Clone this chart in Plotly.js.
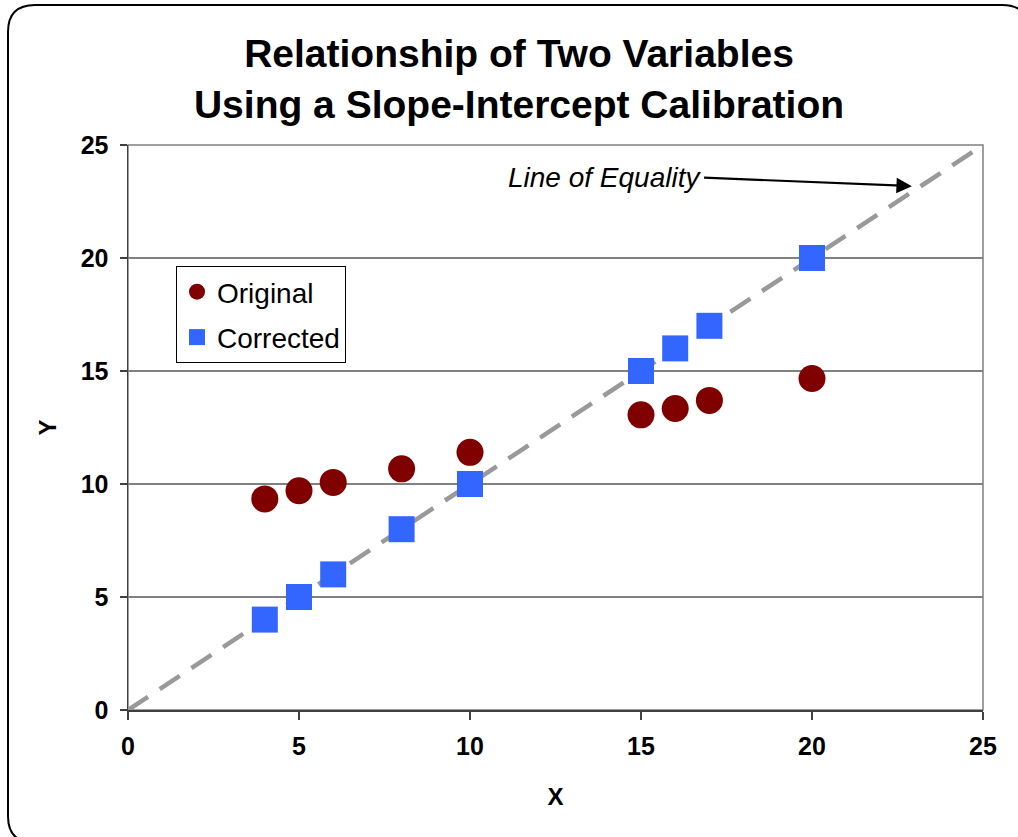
<!DOCTYPE html>
<html>
<head>
<meta charset="utf-8">
<script src="https://cdn.plot.ly/plotly-3.0.1.min.js"></script>
<style>
html,body{margin:0;padding:0;background:#fff;}
#chart{width:1018px;height:837px;}
</style>
</head>
<body>
<div id="chart"></div>
<script>
// ---- data ----
const xValues = [4, 5, 6, 8, 10, 15, 16, 17, 20];
const originalY = [9.34, 9.70, 10.07, 10.67, 11.40, 13.06, 13.34, 13.70, 14.67];
const correctedY = [4, 5, 6, 8, 10, 15, 16, 17, 20];
const equalityX = [0, 25];
const equalityY = [0, 25];
const seriesNames = ["Original", "Corrected"];
const titleLines = ["Relationship of Two Variables", "Using a Slope-Intercept Calibration"];
const equalityLabel = "Line of Equality";
const arrowTip = [22.92, 23.18];
const arrowTail = [16.8, 23.56];

// ---- layout helpers ----
const W = 1018, H = 837;
const M = {l: 128, r: 35, t: 145, b: 127};
const PW = W - M.l - M.r, PH = H - M.t - M.b;
function px(x){ return (x - M.l) / PW; }
function py(y){ return (H - M.b - y) / PH; }
function frameShape(x0, y0, x1, y1, r){
  const p = [
    `M${px(x0+r)},${py(y0)}`,
    `L${px(x1-r)},${py(y0)}`,
    `Q${px(x1)},${py(y0)} ${px(x1)},${py(y0+r)}`,
    `L${px(x1)},${py(y1-r)}`,
    `Q${px(x1)},${py(y1)} ${px(x1-r)},${py(y1)}`,
    `L${px(x0+r)},${py(y1)}`,
    `Q${px(x0)},${py(y1)} ${px(x0)},${py(y1-r)}`,
    `L${px(x0)},${py(y0+r)}`,
    `Q${px(x0)},${py(y0)} ${px(x0+r)},${py(y0)}`,
    'Z'
  ].join(' ');
  return {type:'path', xref:'paper', yref:'paper', path:p,
          line:{color:'#000', width:2}, fillcolor:'rgba(0,0,0,0)', layer:'below'};
}

const FONT = '"Liberation Sans", Arial, sans-serif';

const traces = [
  {
    x: equalityX, y: equalityY, mode: 'lines', showlegend: false, hoverinfo:'skip',
    line: {color: '#999999', width: 4.5, dash: '24px,14px'}
  },
  {
    x: xValues, y: originalY, mode: 'markers', name: seriesNames[0], legendgroup: 'a',
    marker: {symbol: 'circle', size: 27, color: '#800000'}
  },
  {
    x: xValues, y: correctedY, mode: 'markers', name: seriesNames[1], legendgroup: 'b',
    marker: {symbol: 'square', size: 26, color: '#3366FF'}
  }
];

const layout = {
  width: W, height: H,
  margin: M,
  paper_bgcolor: '#fff', plot_bgcolor: '#fff',
  font: {family: FONT, color: '#000'},
  title: {
    text: '<b>' + titleLines.join('<br>') + '</b>',
    font: {family: FONT, size: 39, color: '#000'},
    x: 519/W, xanchor: 'center', xref: 'container',
    y: 1 - 67/H, yanchor: 'top', yref: 'container'
  },
  xaxis: {
    range: [0, 25], dtick: 5, tick0: 0,
    showgrid: false, zeroline: false,
    showline: true, linecolor: '#404040', linewidth: 1.5,
    ticks: 'outside', ticklen: 8, tickcolor: '#404040', tickwidth: 1.5,
    ticklabelstandoff: 5,
    tickfont: {family: FONT, size: 25, color: '#000', weight: 'bold'},
    title: {text: '<b>X</b>', font: {family: FONT, size: 24, color: '#000'}, standoff: 29}
  },
  yaxis: {
    range: [0, 25], dtick: 5, tick0: 0,
    showgrid: true, gridcolor: '#808080', gridwidth: 1.5,
    zeroline: false,
    showline: true, linecolor: '#404040', linewidth: 1.5,
    ticks: 'outside', ticklen: 7, tickcolor: '#404040', tickwidth: 1.5,
    ticklabelstandoff: 6,
    tickfont: {family: FONT, size: 25, color: '#000', weight: 'bold'},
    title: {text: '<b>Y</b>', font: {family: FONT, size: 24, color: '#000'}, standoff: 17}
  },
  legend: {
    x: px(176), y: py(266), xanchor: 'left', yanchor: 'top',
    bgcolor: '#fff', bordercolor: '#000', borderwidth: 1,
    font: {family: FONT, size: 28, color: '#000'},
    itemsizing: 'trace', tracegroupgap: 6
  },
  shapes: [
    {type:'rect', xref:'paper', yref:'paper', x0:0, x1:1, y0:0, y1:1,
     line:{color:'#808080', width:1.5}, layer:'below'},
    frameShape(8, 5, 1029, 843, 27)
  ],
  annotations: [
    {
      x: arrowTail[0], y: arrowTail[1], xref: 'x', yref: 'y',
      text: '<i>' + equalityLabel + '</i>', showarrow: false,
      xanchor: 'right', yanchor: 'middle',
      font: {family: FONT, size: 28, color: '#000'}
    },
    {
      x: arrowTip[0], y: arrowTip[1], xref: 'x', yref: 'y',
      ax: arrowTail[0], ay: arrowTail[1], axref: 'x', ayref: 'y',
      text: '', showarrow: true, arrowhead: 2, arrowsize: 1.4, arrowwidth: 2.2,
      arrowcolor: '#000', standoff: 0, startstandoff: 0
    }
  ]
};

Plotly.newPlot('chart', traces, layout, {displayModeBar: false, staticPlot: true});
</script>
</body>
</html>
